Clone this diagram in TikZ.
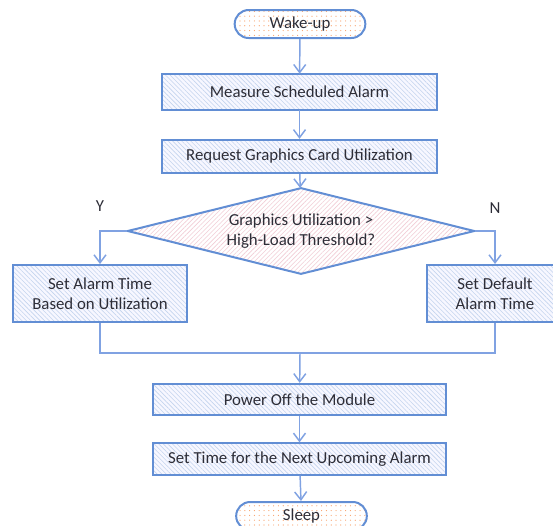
\documentclass[tikz,border=0pt]{standalone}
\usepackage{fontspec}
\setmainfont{Carlito}
\usetikzlibrary{shapes.geometric,arrows.meta,patterns.meta}
\definecolor{boxline}{RGB}{98,142,212}
\definecolor{flowline}{RGB}{128,162,226}
\definecolor{hatchblue}{RGB}{196,212,238}
\definecolor{dotorange}{RGB}{248,160,105}
\definecolor{hatchpink}{RGB}{242,205,214}
\definecolor{txt}{RGB}{45,45,55}
\tikzset{
  every node/.style={font=\fontsize{12.6}{15}\selectfont, text=txt, align=center},
  process/.style={draw=boxline, line width=1.5pt, inner sep=0pt,
    preaction={fill=blue!3},
    pattern={Lines[angle=135, distance=2.4pt, line width=0.45pt]}, pattern color=hatchblue},
  term/.style={draw=boxline, line width=1.5pt, inner sep=0pt, rounded corners=10.5pt,
    minimum width=98pt, minimum height=21pt,
    preaction={fill=white},
    pattern={Dots[distance=3.6pt, radius=0.45pt]}, pattern color=dotorange},
  decision/.style={diamond, draw=boxline, line width=1.5pt, inner sep=0pt, aspect=4,
    minimum width=260pt, minimum height=64.5pt,
    preaction={fill=white},
    pattern={Lines[angle=45, distance=2.4pt, line width=0.45pt]}, pattern color=hatchpink},
  flow/.style={draw=flowline, line width=1.1pt, -{Straight Barb[length=6pt,width=9pt]}},
  joint/.style={draw=flowline, line width=1.1pt}
}
\begin{document}
\begin{tikzpicture}[x=0.75pt, y=-0.75pt]
    \useasboundingbox (0,0) rectangle (553,525);

    % Start and end
    \node[term] (wake) at (300,24) {Wake-up};
    \node[term] (sleep) at (301.5,516) {Sleep};

    % Steps
    \node[process, minimum width=206pt, minimum height=27pt] (measure) at (299.5,92) {Measure Scheduled Alarm};
    \node[process, minimum width=206pt, minimum height=25pt] (request) at (299.5,156.5) {Request Graphics Card Utilization};
    \node[decision] (check) at (301,231) {Graphics Utilization >\\High-Load Threshold?};
    \node[process, minimum width=130.5pt, minimum height=42.75pt] (setalarm) at (100,293.5) {Set Alarm Time\\Based on Utilization};
    \node[process, minimum width=102pt, minimum height=42.75pt] (setdefault) at (495,293.5) {Set Default\\Alarm Time};
    \node[process, minimum width=220pt, minimum height=23.5pt] (power) at (299.5,399.5) {Power Off the Module};
    \node[process, minimum width=220pt, minimum height=23.5pt] (settime) at (299.5,459) {Set Time for the Next Upcoming Alarm};
    \coordinate (join) at (300,353);

    % Connectors
    \draw[flow] (wake) -- (measure);
    \draw[flow] (measure) -- (request);
    \draw[flow] (request) -- (check);
    \draw[flow] (check.west) -| node[pos=0.5, above=11pt]{Y} (setalarm.north);
    \draw[flow] (check.east) -| node[pos=0.5, above=9pt]{N} (setdefault.north);
    \draw[joint] (setalarm.south) |- (join);
    \draw[joint] (setdefault.south) |- (join);
    \draw[flow] (join) -- (power);
    \draw[flow] (power) -- (settime);
    \draw[flow] (settime) -- (sleep);
\end{tikzpicture}
\end{document}
